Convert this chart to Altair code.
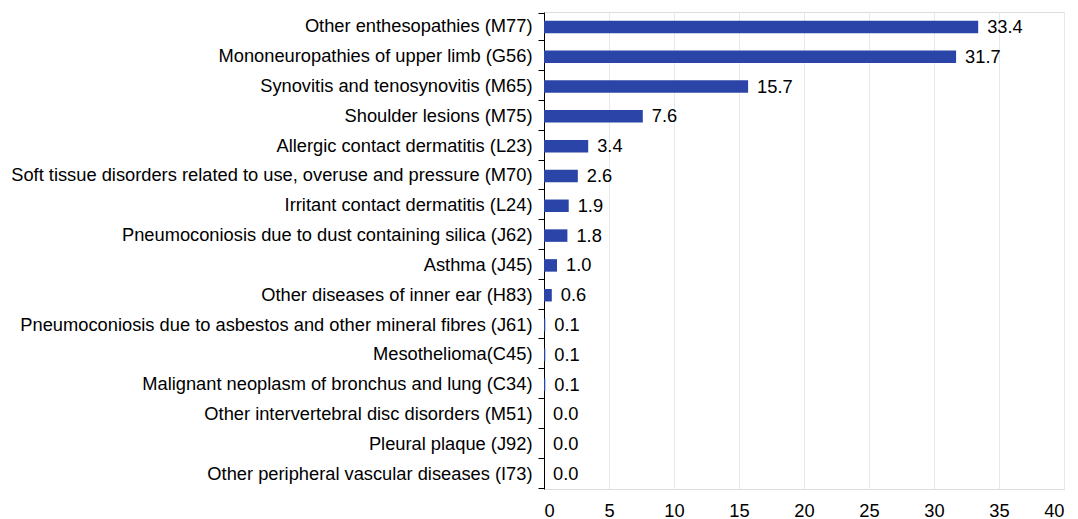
import altair as alt
import pandas as pd

categories = [
    "Other enthesopathies (M77)",
    "Mononeuropathies of upper limb (G56)",
    "Synovitis and tenosynovitis (M65)",
    "Shoulder lesions (M75)",
    "Allergic contact dermatitis (L23)",
    "Soft tissue disorders related to use, overuse and pressure (M70)",
    "Irritant contact dermatitis (L24)",
    "Pneumoconiosis due to dust containing silica (J62)",
    "Asthma (J45)",
    "Other diseases of inner ear (H83)",
    "Pneumoconiosis due to asbestos and other mineral fibres (J61)",
    "Mesothelioma(C45)",
    "Malignant neoplasm of bronchus and lung (C34)",
    "Other intervertebral disc disorders (M51)",
    "Pleural plaque (J92)",
    "Other peripheral vascular diseases (I73)",
]
values = [33.4, 31.7, 15.7, 7.6, 3.4, 2.6, 1.9, 1.8, 1.0, 0.6, 0.1, 0.1, 0.1, 0.0, 0.0, 0.0]
x_ticks = [0, 5, 10, 15, 20, 25, 30, 35, 40]

df = pd.DataFrame({"cat": categories, "val": values})
df["label"] = df["val"].map(lambda v: f"{v:.1f}")

FS = 18.3

y_enc = alt.Y(
    "cat:N",
    sort=categories,
    title=None,
    axis=alt.Axis(
        domainColor="black",
        tickColor="black",
        tickSize=6,
        tickBand="extent",
        labelPadding=6,
        labelFontSize=FS,
        labelColor="black",
        labelFont="Liberation Sans",
        labelLimit=800,
        grid=False,
    ),
)
x_enc = alt.X(
    "val:Q",
    scale=alt.Scale(domain=[0, 40], nice=False),
    title=None,
    axis=alt.Axis(
        values=x_ticks,
        domain=False,
        ticks=False,
        labelPadding=13,
        labelFontSize=FS,
        labelColor="black",
        labelFont="Liberation Sans",
        grid=True,
        gridColor="#e8e8e8",
    ),
)

bars = alt.Chart(df).mark_bar(size=12.5, color="#2a44a8").encode(x=x_enc, y=y_enc)
text = alt.Chart(df).mark_text(
    align="left", baseline="middle", dx=9, dy=1, fontSize=FS, font="Liberation Sans", color="black"
).encode(x="val:Q", y=alt.Y("cat:N", sort=categories), text="label:N")

chart = (
    alt.layer(bars, text)
    .properties(
        width=520,
        height=477,
        autosize=alt.AutoSizeParams(type="none"),
        padding={"top": 4, "left": 536, "right": 6, "bottom": 30},
    )
    .configure_view(stroke=None)
    .configure(background="white")
)
chart.save("out.html", embed_options={"renderer": "svg", "actions": False})
